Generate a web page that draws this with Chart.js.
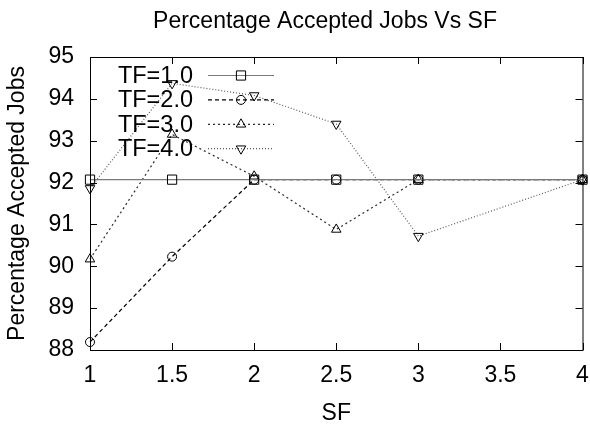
<!DOCTYPE html>
<html>
<head>
<meta charset="utf-8">
<script src="https://cdn.jsdelivr.net/npm/chart.js@4/dist/chart.umd.min.js"></script>
<style>
  html, body { margin: 0; padding: 0; background: #fff; }
  #wrap { width: 590px; height: 425px; }
</style>
</head>
<body>
<div id="wrap"><canvas id="sfChart" width="590" height="425"></canvas></div>
<script>
//// data
const sfValues = [1, 1.5, 2, 2.5, 3, 4];
const tf1Accepted = [92.07, 92.07, 92.07, 92.07, 92.07, 92.07];
const tf2Accepted = [88.19, 90.23, 92.07, 92.07, 92.07, 92.07];
const tf3Accepted = [90.17, 93.15, 92.15, 90.88, 92.07, 92.07];
const tf4Accepted = [91.86, 94.37, 94.08, 93.4, 90.72, 92.07];
const seriesLabels = ["TF=1.0", "TF=2.0", "TF=3.0", "TF=4.0"];
const xTicks = [1, 1.5, 2, 2.5, 3, 3.5, 4];
const yTicks = [88, 89, 90, 91, 92, 93, 94, 95];
const chartTitle = "Percentage Accepted Jobs Vs SF";

const fontFamily = "'Liberation Sans', Arial, sans-serif";

function toPoints(values) {
  return values.map((v, i) => ({ x: sfValues[i], y: v }));
}

function makeDataset(label, values, color, dash, style, radius, rotation) {
  return {
    label: label,
    data: toPoints(values),
    borderColor: color,
    borderWidth: 1.2,
    borderDash: dash,
    pointStyle: style,
    pointRadius: radius,
    pointRotation: rotation,
    pointBorderColor: "#000",
    pointBackgroundColor: "rgba(0,0,0,0)",
    pointBorderWidth: 1,
    fill: false,
    tension: 0,
    clip: false
  };
}

//// plugins
const frameTicks = {
  id: "frameTicks",
  afterDraw(chart) {
    const { ctx, chartArea: a, scales } = chart;
    ctx.save();
    ctx.strokeStyle = "#000";
    ctx.lineWidth = 1;
    ctx.strokeRect(a.left + 0.5, a.top + 0.5, a.right - a.left, a.bottom - a.top);
    const len = 7;
    ctx.beginPath();
    xTicks.forEach(t => {
      const px = Math.round(scales.x.getPixelForValue(t)) + 0.5;
      ctx.moveTo(px, a.bottom); ctx.lineTo(px, a.bottom - len);
      ctx.moveTo(px, a.top); ctx.lineTo(px, a.top + len);
    });
    yTicks.forEach(t => {
      const py = Math.round(scales.y.getPixelForValue(t)) + 0.5;
      ctx.moveTo(a.left, py); ctx.lineTo(a.left + len, py);
      ctx.moveTo(a.right, py); ctx.lineTo(a.right - len, py);
    });
    ctx.stroke();
    ctx.restore();
  }
};

const titleAndKey = {
  id: "titleAndKey",
  afterDraw(chart) {
    const { ctx } = chart;
    ctx.save();
    ctx.fillStyle = "#000";
    ctx.font = "23px " + fontFamily;
    ctx.textAlign = "center";
    ctx.textBaseline = "alphabetic";
    ctx.fillText(chartTitle, 325, 28);

    ctx.font = "23.5px " + fontFamily;
    ctx.textAlign = "right";
    chart.data.datasets.forEach((ds, i) => {
      const rowY = 75 + i * 24.4;
      ctx.fillStyle = "#000";
      ctx.fillText(ds.label, 193, rowY + 8);
      ctx.strokeStyle = ds.borderColor;
      ctx.lineWidth = ds.borderWidth;
      ctx.setLineDash(ds.borderDash);
      ctx.beginPath();
      ctx.moveTo(208, rowY + 0.5);
      ctx.lineTo(274, rowY + 0.5);
      ctx.stroke();
      ctx.setLineDash([]);
      ctx.strokeStyle = "#000";
      ctx.lineWidth = 1;
      ctx.fillStyle = "rgba(0,0,0,0)";
      Chart.helpers.drawPoint(ctx, {
        pointStyle: ds.pointStyle,
        rotation: ds.pointRotation,
        radius: ds.pointRadius,
        borderWidth: 1
      }, 241, rowY + 0.5);
    });
    ctx.restore();
  }
};

//// chart
const ctx = document.getElementById("sfChart").getContext("2d");
new Chart(ctx, {
  type: "line",
  data: {
    datasets: [
      makeDataset(seriesLabels[0], tf1Accepted, "#7a7a7a", [], "rect", 6.5, 0),
      makeDataset(seriesLabels[1], tf2Accepted, "#000000", [4, 3], "circle", 4.5, 0),
      makeDataset(seriesLabels[2], tf3Accepted, "#2a2a2a", [2, 3], "triangle", 5.5, 0),
      makeDataset(seriesLabels[3], tf4Accepted, "#5a5a5a", [1, 2], "triangle", 5.5, 180)
    ]
  },
  options: {
    responsive: false,
    animation: false,
    devicePixelRatio: 1,
    layout: { padding: { top: 57, right: 7, left: 0, bottom: 0 } },
    plugins: {
      legend: { display: false },
      title: { display: false },
      tooltip: { enabled: false }
    },
    scales: {
      x: {
        type: "linear",
        min: 1,
        max: 4,
        afterFit: s => { s.height = 75; s.paddingLeft = 0; s.paddingRight = 0; },
        afterBuildTicks: s => { s.ticks = xTicks.map(v => ({ value: v })); },
        grid: { display: false, drawTicks: false },
        border: { display: false },
        ticks: {
          padding: 12,
          color: "#000",
          font: { family: fontFamily, size: 23 },
          callback: value => String(value)
        },
        title: {
          display: true,
          text: "SF",
          color: "#000",
          padding: 0,
          font: { family: fontFamily, size: 23, lineHeight: 1 }
        }
      },
      y: {
        min: 88,
        max: 95,
        afterFit: s => { s.width = 90; s.paddingTop = 0; s.paddingBottom = 0; },
        afterBuildTicks: s => { s.ticks = yTicks.map(v => ({ value: v })); },
        grid: { display: false, drawTicks: false },
        border: { display: false },
        ticks: {
          padding: 16,
          color: "#000",
          font: { family: fontFamily, size: 23 },
          callback: value => String(value)
        },
        title: {
          display: true,
          text: "Percentage Accepted Jobs",
          color: "#000",
          padding: { top: 4, bottom: 0 },
          font: { family: fontFamily, size: 23 }
        }
      }
    }
  },
  plugins: [frameTicks, titleAndKey]
});
</script>
</body>
</html>
